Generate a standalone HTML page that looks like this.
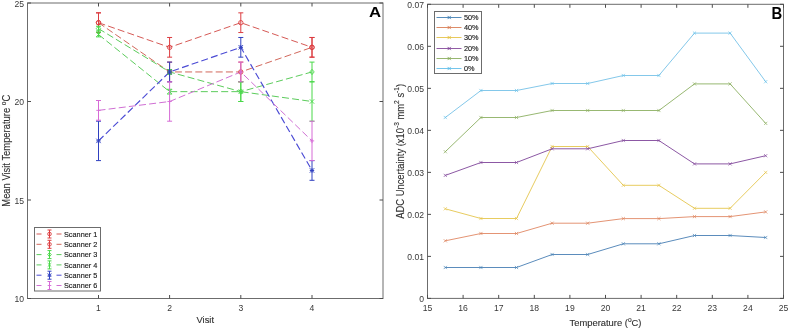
<!DOCTYPE html><html><head><meta charset="utf-8"><style>html,body{margin:0;padding:0;background:#fff;}svg{display:block;will-change:transform}text{font-family:"Liberation Sans", sans-serif;fill:#383838}.lg{fill:#1a1a1a;stroke:#1a1a1a;stroke-width:0.14px}.lb{fill:#303030;stroke:#303030;stroke-width:0.12px}</style></head><body>
<svg width="789" height="329" viewBox="0 0 789 329">
<rect width="789" height="329" fill="#fff"/>
<g id="left">
<polyline points="98.50,22.70 169.60,47.33 240.80,22.70 312.00,47.33" fill="none" stroke="#d65a56" stroke-width="1" stroke-dasharray="7 3.2"/>
<polyline points="98.50,22.70 169.60,71.95 240.80,71.95 312.00,47.33" fill="none" stroke="#d2685c" stroke-width="1" stroke-dasharray="7 3.2"/>
<polyline points="98.50,28.61 169.60,71.95 240.80,91.65 312.00,71.95" fill="none" stroke="#5ccc5c" stroke-width="1" stroke-dasharray="7 3.2"/>
<polyline points="98.50,34.52 169.60,91.65 240.80,91.65 312.00,101.50" fill="none" stroke="#5ccc5c" stroke-width="1" stroke-dasharray="7 3.2"/>
<polyline points="98.50,140.90 169.60,71.95 240.80,47.33 312.00,170.45" fill="none" stroke="#4a4ad4" stroke-width="1.15" stroke-dasharray="7 3.2"/>
<polyline points="98.50,110.36 169.60,101.50 240.80,71.95 312.00,140.90" fill="none" stroke="#d070d4" stroke-width="1" stroke-dasharray="7 3.2"/>
<path d="M98.50 12.85V32.55M96.00 12.85H101.00M96.00 32.55H101.00" stroke="#dc3c40" stroke-width="1" fill="none"/>
<circle cx="98.50" cy="22.70" r="2.20" fill="none" stroke="#dc3c40" stroke-width="0.9"/>
<path d="M169.60 37.48V57.17M167.10 37.48H172.10M167.10 57.17H172.10" stroke="#dc3c40" stroke-width="1" fill="none"/>
<circle cx="169.60" cy="47.33" r="2.20" fill="none" stroke="#dc3c40" stroke-width="0.9"/>
<path d="M240.80 12.85V32.55M238.30 12.85H243.30M238.30 32.55H243.30" stroke="#dc3c40" stroke-width="1" fill="none"/>
<circle cx="240.80" cy="22.70" r="2.20" fill="none" stroke="#dc3c40" stroke-width="0.9"/>
<path d="M312.00 37.48V57.17M309.50 37.48H314.50M309.50 57.17H314.50" stroke="#dc3c40" stroke-width="1" fill="none"/>
<circle cx="312.00" cy="47.33" r="2.20" fill="none" stroke="#dc3c40" stroke-width="0.9"/>
<path d="M98.50 12.85V32.55M96.00 12.85H101.00M96.00 32.55H101.00" stroke="#dc3c40" stroke-width="1" fill="none"/>
<circle cx="98.50" cy="22.70" r="2.20" fill="none" stroke="#dc3c40" stroke-width="0.9"/>
<path d="M169.60 62.10V81.80M167.10 62.10H172.10M167.10 81.80H172.10" stroke="#dc3c40" stroke-width="1" fill="none"/>
<circle cx="169.60" cy="71.95" r="2.20" fill="none" stroke="#dc3c40" stroke-width="0.9"/>
<path d="M240.80 62.10V81.80M238.30 62.10H243.30M238.30 81.80H243.30" stroke="#dc3c40" stroke-width="1" fill="none"/>
<circle cx="240.80" cy="71.95" r="2.20" fill="none" stroke="#dc3c40" stroke-width="0.9"/>
<path d="M312.00 37.48V57.17M309.50 37.48H314.50M309.50 57.17H314.50" stroke="#dc3c40" stroke-width="1" fill="none"/>
<circle cx="312.00" cy="47.33" r="2.20" fill="none" stroke="#dc3c40" stroke-width="0.9"/>
<path d="M98.50 26.25V30.97M96.00 26.25H101.00M96.00 30.97H101.00" stroke="#48d848" stroke-width="1" fill="none"/>
<path d="M98.50 25.97L100.70 28.61L98.50 31.25L96.30 28.61Z" fill="none" stroke="#48d848" stroke-width="0.9"/>
<path d="M169.60 69.59V74.31M167.10 69.59H172.10M167.10 74.31H172.10" stroke="#48d848" stroke-width="1" fill="none"/>
<path d="M169.60 69.31L171.80 71.95L169.60 74.59L167.40 71.95Z" fill="none" stroke="#48d848" stroke-width="0.9"/>
<path d="M240.80 81.80V101.50M238.30 81.80H243.30M238.30 101.50H243.30" stroke="#48d848" stroke-width="1" fill="none"/>
<path d="M240.80 89.01L243.00 91.65L240.80 94.29L238.60 91.65Z" fill="none" stroke="#48d848" stroke-width="0.9"/>
<path d="M312.00 62.10V81.80M309.50 62.10H314.50M309.50 81.80H314.50" stroke="#48d848" stroke-width="1" fill="none"/>
<path d="M312.00 69.31L314.20 71.95L312.00 74.59L309.80 71.95Z" fill="none" stroke="#48d848" stroke-width="0.9"/>
<path d="M98.50 32.16V36.88M96.00 32.16H101.00M96.00 36.88H101.00" stroke="#48d848" stroke-width="1" fill="none"/>
<path d="M96.30 32.32L100.70 36.72M96.30 36.72L100.70 32.32" stroke="#48d848" stroke-width="0.9"/>
<path d="M169.60 89.29V94.01M167.10 89.29H172.10M167.10 94.01H172.10" stroke="#48d848" stroke-width="1" fill="none"/>
<path d="M167.40 89.45L171.80 93.85M167.40 93.85L171.80 89.45" stroke="#48d848" stroke-width="0.9"/>
<path d="M240.80 81.80V101.50M238.30 81.80H243.30M238.30 101.50H243.30" stroke="#48d848" stroke-width="1" fill="none"/>
<path d="M238.60 89.45L243.00 93.85M238.60 93.85L243.00 89.45" stroke="#48d848" stroke-width="0.9"/>
<path d="M312.00 81.80V121.20M309.50 81.80H314.50M309.50 121.20H314.50" stroke="#48d848" stroke-width="1" fill="none"/>
<path d="M309.80 99.30L314.20 103.70M309.80 103.70L314.20 99.30" stroke="#48d848" stroke-width="0.9"/>
<path d="M98.50 121.20V160.60M96.00 121.20H101.00M96.00 160.60H101.00" stroke="#3040c0" stroke-width="1" fill="none"/>
<path d="M96.30 138.70L100.70 143.10M96.30 143.10L100.70 138.70M98.50 138.70V143.10M96.30 140.90H100.70" stroke="#3040c0" stroke-width="1"/>
<path d="M169.60 62.10V81.80M167.10 62.10H172.10M167.10 81.80H172.10" stroke="#3040c0" stroke-width="1" fill="none"/>
<path d="M167.40 69.75L171.80 74.15M167.40 74.15L171.80 69.75M169.60 69.75V74.15M167.40 71.95H171.80" stroke="#3040c0" stroke-width="1"/>
<path d="M240.80 37.48V57.17M238.30 37.48H243.30M238.30 57.17H243.30" stroke="#3040c0" stroke-width="1" fill="none"/>
<path d="M238.60 45.12L243.00 49.53M238.60 49.53L243.00 45.12M240.80 45.12V49.53M238.60 47.33H243.00" stroke="#3040c0" stroke-width="1"/>
<path d="M312.00 160.60V180.30M309.50 160.60H314.50M309.50 180.30H314.50" stroke="#3040c0" stroke-width="1" fill="none"/>
<path d="M309.80 168.25L314.20 172.65M309.80 172.65L314.20 168.25M312.00 168.25V172.65M309.80 170.45H314.20" stroke="#3040c0" stroke-width="1"/>
<path d="M98.50 100.51V120.21M96.00 100.51H101.00M96.00 120.21H101.00" stroke="#d66ad6" stroke-width="1" fill="none"/>
<path d="M98.50 108.16V112.56M96.30 110.36H100.70" stroke="#d66ad6" stroke-width="0.9"/>
<path d="M169.60 81.80V121.20M167.10 81.80H172.10M167.10 121.20H172.10" stroke="#d66ad6" stroke-width="1" fill="none"/>
<path d="M169.60 99.30V103.70M167.40 101.50H171.80" stroke="#d66ad6" stroke-width="0.9"/>
<path d="M240.80 62.10V81.80M238.30 62.10H243.30M238.30 81.80H243.30" stroke="#d66ad6" stroke-width="1" fill="none"/>
<path d="M240.80 69.75V74.15M238.60 71.95H243.00" stroke="#d66ad6" stroke-width="0.9"/>
<path d="M312.00 121.20V160.60M309.50 121.20H314.50M309.50 160.60H314.50" stroke="#d66ad6" stroke-width="1" fill="none"/>
<path d="M312.00 138.70V143.10M309.80 140.90H314.20" stroke="#d66ad6" stroke-width="0.9"/>
<rect x="27.5" y="3.0" width="355.5" height="295.5" fill="none" stroke="#6c6c6c" stroke-width="1"/>
<path d="M98.50 298.5v-3.5M98.50 3.0v3.5" stroke="#4c4c4c" stroke-width="1"/>
<text x="98.50" y="310.80" font-size="8.6" text-anchor="middle">1</text>
<path d="M169.60 298.5v-3.5M169.60 3.0v3.5" stroke="#4c4c4c" stroke-width="1"/>
<text x="169.60" y="310.80" font-size="8.6" text-anchor="middle">2</text>
<path d="M240.80 298.5v-3.5M240.80 3.0v3.5" stroke="#4c4c4c" stroke-width="1"/>
<text x="240.80" y="310.80" font-size="8.6" text-anchor="middle">3</text>
<path d="M312.00 298.5v-3.5M312.00 3.0v3.5" stroke="#4c4c4c" stroke-width="1"/>
<text x="312.00" y="310.80" font-size="8.6" text-anchor="middle">4</text>
<path d="M27.5 298.50h3.5M383.0 298.50h-3.5" stroke="#4c4c4c" stroke-width="1"/>
<text x="24.00" y="302.30" font-size="8.6" text-anchor="end">10</text>
<path d="M27.5 200.00h3.5M383.0 200.00h-3.5" stroke="#4c4c4c" stroke-width="1"/>
<text x="24.00" y="203.80" font-size="8.6" text-anchor="end">15</text>
<path d="M27.5 101.50h3.5M383.0 101.50h-3.5" stroke="#4c4c4c" stroke-width="1"/>
<text x="24.00" y="105.30" font-size="8.6" text-anchor="end">20</text>
<path d="M27.5 3.00h3.5M383.0 3.00h-3.5" stroke="#4c4c4c" stroke-width="1"/>
<text x="24.00" y="6.80" font-size="8.6" text-anchor="end">25</text>
<text x="205.25" y="322.6" font-size="9.4" class="lb" text-anchor="middle">Visit</text>
<text transform="translate(9.8,150.75) rotate(-90) scale(1,1.07)" font-size="9.4" class="lb" text-anchor="middle">Mean Visit Temperature <tspan font-size="6.6" dy="-4">o</tspan><tspan dy="4">C</tspan></text>
<text transform="translate(368.9,17.1) scale(1.12,1)" font-size="15" font-weight="bold" style="fill:#000">A</text>
<rect x="34.5" y="227.5" width="66.0" height="63.5" fill="#fff" stroke="#6c6c6c" stroke-width="1"/>
<path d="M36.5 234.00H41.5M56.5 234.00H61.5" stroke="#d65a56" stroke-width="1"/>
<path d="M49.5 230.00V238.00M47.5 230.00H51.5M47.5 238.00H51.5" stroke="#dc3c40" stroke-width="1"/>
<circle cx="49.50" cy="234.00" r="1.80" fill="none" stroke="#dc3c40" stroke-width="0.9"/>
<text x="64" y="236.60" font-size="7.3" class="lg">Scanner 1</text>
<path d="M36.5 244.30H41.5M56.5 244.30H61.5" stroke="#d2685c" stroke-width="1"/>
<path d="M49.5 240.30V248.30M47.5 240.30H51.5M47.5 248.30H51.5" stroke="#dc3c40" stroke-width="1"/>
<circle cx="49.50" cy="244.30" r="1.80" fill="none" stroke="#dc3c40" stroke-width="0.9"/>
<text x="64" y="246.90" font-size="7.3" class="lg">Scanner 2</text>
<path d="M36.5 254.60H41.5M56.5 254.60H61.5" stroke="#5ccc5c" stroke-width="1"/>
<path d="M49.5 250.60V258.60M47.5 250.60H51.5M47.5 258.60H51.5" stroke="#48d848" stroke-width="1"/>
<path d="M49.50 252.44L51.30 254.60L49.50 256.76L47.70 254.60Z" fill="none" stroke="#48d848" stroke-width="0.9"/>
<text x="64" y="257.20" font-size="7.3" class="lg">Scanner 3</text>
<path d="M36.5 264.90H41.5M56.5 264.90H61.5" stroke="#5ccc5c" stroke-width="1"/>
<path d="M49.5 260.90V268.90M47.5 260.90H51.5M47.5 268.90H51.5" stroke="#48d848" stroke-width="1"/>
<path d="M47.70 263.10L51.30 266.70M47.70 266.70L51.30 263.10" stroke="#48d848" stroke-width="0.9"/>
<text x="64" y="267.50" font-size="7.3" class="lg">Scanner 4</text>
<path d="M36.5 275.20H41.5M56.5 275.20H61.5" stroke="#4a4ad4" stroke-width="1"/>
<path d="M49.5 271.20V279.20M47.5 271.20H51.5M47.5 279.20H51.5" stroke="#3040c0" stroke-width="1"/>
<path d="M47.70 273.40L51.30 277.00M47.70 277.00L51.30 273.40M49.50 273.40V277.00M47.70 275.20H51.30" stroke="#3040c0" stroke-width="1"/>
<text x="64" y="277.80" font-size="7.3" class="lg">Scanner 5</text>
<path d="M36.5 285.50H41.5M56.5 285.50H61.5" stroke="#d070d4" stroke-width="1"/>
<path d="M49.5 281.50V289.50M47.5 281.50H51.5M47.5 289.50H51.5" stroke="#d66ad6" stroke-width="1"/>
<path d="M49.50 283.70V287.30M47.70 285.50H51.30" stroke="#d66ad6" stroke-width="0.9"/>
<text x="64" y="288.10" font-size="7.3" class="lg">Scanner 6</text>
</g>
<g id="right">
<polyline points="445.30,267.50 480.90,267.50 516.50,267.50 552.10,254.50 587.70,254.50 623.30,243.80 658.90,243.80 694.50,235.50 730.10,235.50 765.70,237.50" fill="none" stroke="#5b8cbc" stroke-width="1" stroke-linejoin="round"/>
<path d="M443.70 265.90L446.90 269.10M443.70 269.10L446.90 265.90" stroke="#3a7ab0" stroke-width="0.8" opacity="0.8"/>
<path d="M479.30 265.90L482.50 269.10M479.30 269.10L482.50 265.90" stroke="#3a7ab0" stroke-width="0.8" opacity="0.8"/>
<path d="M514.90 265.90L518.10 269.10M514.90 269.10L518.10 265.90" stroke="#3a7ab0" stroke-width="0.8" opacity="0.8"/>
<path d="M550.50 252.90L553.70 256.10M550.50 256.10L553.70 252.90" stroke="#3a7ab0" stroke-width="0.8" opacity="0.8"/>
<path d="M586.10 252.90L589.30 256.10M586.10 256.10L589.30 252.90" stroke="#3a7ab0" stroke-width="0.8" opacity="0.8"/>
<path d="M621.70 242.20L624.90 245.40M621.70 245.40L624.90 242.20" stroke="#3a7ab0" stroke-width="0.8" opacity="0.8"/>
<path d="M657.30 242.20L660.50 245.40M657.30 245.40L660.50 242.20" stroke="#3a7ab0" stroke-width="0.8" opacity="0.8"/>
<path d="M692.90 233.90L696.10 237.10M692.90 237.10L696.10 233.90" stroke="#3a7ab0" stroke-width="0.8" opacity="0.8"/>
<path d="M728.50 233.90L731.70 237.10M728.50 237.10L731.70 233.90" stroke="#3a7ab0" stroke-width="0.8" opacity="0.8"/>
<path d="M764.10 235.90L767.30 239.10M764.10 239.10L767.30 235.90" stroke="#3a7ab0" stroke-width="0.8" opacity="0.8"/>
<polyline points="445.30,240.80 480.90,233.50 516.50,233.50 552.10,223.20 587.70,223.20 623.30,218.60 658.90,218.60 694.50,216.60 730.10,216.60 765.70,211.90" fill="none" stroke="#e49474" stroke-width="1" stroke-linejoin="round"/>
<path d="M443.70 239.20L446.90 242.40M443.70 242.40L446.90 239.20" stroke="#d8784e" stroke-width="0.8" opacity="0.8"/>
<path d="M479.30 231.90L482.50 235.10M479.30 235.10L482.50 231.90" stroke="#d8784e" stroke-width="0.8" opacity="0.8"/>
<path d="M514.90 231.90L518.10 235.10M514.90 235.10L518.10 231.90" stroke="#d8784e" stroke-width="0.8" opacity="0.8"/>
<path d="M550.50 221.60L553.70 224.80M550.50 224.80L553.70 221.60" stroke="#d8784e" stroke-width="0.8" opacity="0.8"/>
<path d="M586.10 221.60L589.30 224.80M586.10 224.80L589.30 221.60" stroke="#d8784e" stroke-width="0.8" opacity="0.8"/>
<path d="M621.70 217.00L624.90 220.20M621.70 220.20L624.90 217.00" stroke="#d8784e" stroke-width="0.8" opacity="0.8"/>
<path d="M657.30 217.00L660.50 220.20M657.30 220.20L660.50 217.00" stroke="#d8784e" stroke-width="0.8" opacity="0.8"/>
<path d="M692.90 215.00L696.10 218.20M692.90 218.20L696.10 215.00" stroke="#d8784e" stroke-width="0.8" opacity="0.8"/>
<path d="M728.50 215.00L731.70 218.20M728.50 218.20L731.70 215.00" stroke="#d8784e" stroke-width="0.8" opacity="0.8"/>
<path d="M764.10 210.30L767.30 213.50M764.10 213.50L767.30 210.30" stroke="#d8784e" stroke-width="0.8" opacity="0.8"/>
<polyline points="445.30,208.80 480.90,218.50 516.50,218.50 552.10,146.50 587.70,146.50 623.30,185.30 658.90,185.30 694.50,208.30 730.10,208.30 765.70,172.40" fill="none" stroke="#e8cc60" stroke-width="1" stroke-linejoin="round"/>
<path d="M443.70 207.20L446.90 210.40M443.70 210.40L446.90 207.20" stroke="#e4c040" stroke-width="0.8" opacity="0.8"/>
<path d="M479.30 216.90L482.50 220.10M479.30 220.10L482.50 216.90" stroke="#e4c040" stroke-width="0.8" opacity="0.8"/>
<path d="M514.90 216.90L518.10 220.10M514.90 220.10L518.10 216.90" stroke="#e4c040" stroke-width="0.8" opacity="0.8"/>
<path d="M550.50 144.90L553.70 148.10M550.50 148.10L553.70 144.90" stroke="#e4c040" stroke-width="0.8" opacity="0.8"/>
<path d="M586.10 144.90L589.30 148.10M586.10 148.10L589.30 144.90" stroke="#e4c040" stroke-width="0.8" opacity="0.8"/>
<path d="M621.70 183.70L624.90 186.90M621.70 186.90L624.90 183.70" stroke="#e4c040" stroke-width="0.8" opacity="0.8"/>
<path d="M657.30 183.70L660.50 186.90M657.30 186.90L660.50 183.70" stroke="#e4c040" stroke-width="0.8" opacity="0.8"/>
<path d="M692.90 206.70L696.10 209.90M692.90 209.90L696.10 206.70" stroke="#e4c040" stroke-width="0.8" opacity="0.8"/>
<path d="M728.50 206.70L731.70 209.90M728.50 209.90L731.70 206.70" stroke="#e4c040" stroke-width="0.8" opacity="0.8"/>
<path d="M764.10 170.80L767.30 174.00M764.10 174.00L767.30 170.80" stroke="#e4c040" stroke-width="0.8" opacity="0.8"/>
<polyline points="445.30,175.40 480.90,162.50 516.50,162.50 552.10,148.80 587.70,148.80 623.30,140.50 658.90,140.50 694.50,163.90 730.10,163.90 765.70,155.70" fill="none" stroke="#8c58a4" stroke-width="1" stroke-linejoin="round"/>
<path d="M443.70 173.80L446.90 177.00M443.70 177.00L446.90 173.80" stroke="#7e4096" stroke-width="0.8" opacity="0.8"/>
<path d="M479.30 160.90L482.50 164.10M479.30 164.10L482.50 160.90" stroke="#7e4096" stroke-width="0.8" opacity="0.8"/>
<path d="M514.90 160.90L518.10 164.10M514.90 164.10L518.10 160.90" stroke="#7e4096" stroke-width="0.8" opacity="0.8"/>
<path d="M550.50 147.20L553.70 150.40M550.50 150.40L553.70 147.20" stroke="#7e4096" stroke-width="0.8" opacity="0.8"/>
<path d="M586.10 147.20L589.30 150.40M586.10 150.40L589.30 147.20" stroke="#7e4096" stroke-width="0.8" opacity="0.8"/>
<path d="M621.70 138.90L624.90 142.10M621.70 142.10L624.90 138.90" stroke="#7e4096" stroke-width="0.8" opacity="0.8"/>
<path d="M657.30 138.90L660.50 142.10M657.30 142.10L660.50 138.90" stroke="#7e4096" stroke-width="0.8" opacity="0.8"/>
<path d="M692.90 162.30L696.10 165.50M692.90 165.50L696.10 162.30" stroke="#7e4096" stroke-width="0.8" opacity="0.8"/>
<path d="M728.50 162.30L731.70 165.50M728.50 165.50L731.70 162.30" stroke="#7e4096" stroke-width="0.8" opacity="0.8"/>
<path d="M764.10 154.10L767.30 157.30M764.10 157.30L767.30 154.10" stroke="#7e4096" stroke-width="0.8" opacity="0.8"/>
<polyline points="445.30,151.70 480.90,117.50 516.50,117.50 552.10,110.50 587.70,110.50 623.30,110.50 658.90,110.50 694.50,83.90 730.10,83.90 765.70,123.40" fill="none" stroke="#98b872" stroke-width="1" stroke-linejoin="round"/>
<path d="M443.70 150.10L446.90 153.30M443.70 153.30L446.90 150.10" stroke="#86aa58" stroke-width="0.8" opacity="0.8"/>
<path d="M479.30 115.90L482.50 119.10M479.30 119.10L482.50 115.90" stroke="#86aa58" stroke-width="0.8" opacity="0.8"/>
<path d="M514.90 115.90L518.10 119.10M514.90 119.10L518.10 115.90" stroke="#86aa58" stroke-width="0.8" opacity="0.8"/>
<path d="M550.50 108.90L553.70 112.10M550.50 112.10L553.70 108.90" stroke="#86aa58" stroke-width="0.8" opacity="0.8"/>
<path d="M586.10 108.90L589.30 112.10M586.10 112.10L589.30 108.90" stroke="#86aa58" stroke-width="0.8" opacity="0.8"/>
<path d="M621.70 108.90L624.90 112.10M621.70 112.10L624.90 108.90" stroke="#86aa58" stroke-width="0.8" opacity="0.8"/>
<path d="M657.30 108.90L660.50 112.10M657.30 112.10L660.50 108.90" stroke="#86aa58" stroke-width="0.8" opacity="0.8"/>
<path d="M692.90 82.30L696.10 85.50M692.90 85.50L696.10 82.30" stroke="#86aa58" stroke-width="0.8" opacity="0.8"/>
<path d="M728.50 82.30L731.70 85.50M728.50 85.50L731.70 82.30" stroke="#86aa58" stroke-width="0.8" opacity="0.8"/>
<path d="M764.10 121.80L767.30 125.00M764.10 125.00L767.30 121.80" stroke="#86aa58" stroke-width="0.8" opacity="0.8"/>
<polyline points="445.30,117.50 480.90,90.50 516.50,90.50 552.10,83.50 587.70,83.50 623.30,75.50 658.90,75.50 694.50,33.10 730.10,33.10 765.70,81.70" fill="none" stroke="#84c8ea" stroke-width="1" stroke-linejoin="round"/>
<path d="M443.70 115.90L446.90 119.10M443.70 119.10L446.90 115.90" stroke="#5cbce8" stroke-width="0.8" opacity="0.8"/>
<path d="M479.30 88.90L482.50 92.10M479.30 92.10L482.50 88.90" stroke="#5cbce8" stroke-width="0.8" opacity="0.8"/>
<path d="M514.90 88.90L518.10 92.10M514.90 92.10L518.10 88.90" stroke="#5cbce8" stroke-width="0.8" opacity="0.8"/>
<path d="M550.50 81.90L553.70 85.10M550.50 85.10L553.70 81.90" stroke="#5cbce8" stroke-width="0.8" opacity="0.8"/>
<path d="M586.10 81.90L589.30 85.10M586.10 85.10L589.30 81.90" stroke="#5cbce8" stroke-width="0.8" opacity="0.8"/>
<path d="M621.70 73.90L624.90 77.10M621.70 77.10L624.90 73.90" stroke="#5cbce8" stroke-width="0.8" opacity="0.8"/>
<path d="M657.30 73.90L660.50 77.10M657.30 77.10L660.50 73.90" stroke="#5cbce8" stroke-width="0.8" opacity="0.8"/>
<path d="M692.90 31.50L696.10 34.70M692.90 34.70L696.10 31.50" stroke="#5cbce8" stroke-width="0.8" opacity="0.8"/>
<path d="M728.50 31.50L731.70 34.70M728.50 34.70L731.70 31.50" stroke="#5cbce8" stroke-width="0.8" opacity="0.8"/>
<path d="M764.10 80.10L767.30 83.30M764.10 83.30L767.30 80.10" stroke="#5cbce8" stroke-width="0.8" opacity="0.8"/>
<rect x="427.5" y="4.3" width="356.0" height="294.09999999999997" fill="none" stroke="#6c6c6c" stroke-width="1"/>
<path d="M427.50 298.4v-3.5M427.50 4.3v3.5" stroke="#4c4c4c" stroke-width="1"/>
<text x="427.50" y="310.70" font-size="8.6" text-anchor="middle">15</text>
<path d="M463.10 298.4v-3.5M463.10 4.3v3.5" stroke="#4c4c4c" stroke-width="1"/>
<text x="463.10" y="310.70" font-size="8.6" text-anchor="middle">16</text>
<path d="M498.70 298.4v-3.5M498.70 4.3v3.5" stroke="#4c4c4c" stroke-width="1"/>
<text x="498.70" y="310.70" font-size="8.6" text-anchor="middle">17</text>
<path d="M534.30 298.4v-3.5M534.30 4.3v3.5" stroke="#4c4c4c" stroke-width="1"/>
<text x="534.30" y="310.70" font-size="8.6" text-anchor="middle">18</text>
<path d="M569.90 298.4v-3.5M569.90 4.3v3.5" stroke="#4c4c4c" stroke-width="1"/>
<text x="569.90" y="310.70" font-size="8.6" text-anchor="middle">19</text>
<path d="M605.50 298.4v-3.5M605.50 4.3v3.5" stroke="#4c4c4c" stroke-width="1"/>
<text x="605.50" y="310.70" font-size="8.6" text-anchor="middle">20</text>
<path d="M641.10 298.4v-3.5M641.10 4.3v3.5" stroke="#4c4c4c" stroke-width="1"/>
<text x="641.10" y="310.70" font-size="8.6" text-anchor="middle">21</text>
<path d="M676.70 298.4v-3.5M676.70 4.3v3.5" stroke="#4c4c4c" stroke-width="1"/>
<text x="676.70" y="310.70" font-size="8.6" text-anchor="middle">22</text>
<path d="M712.30 298.4v-3.5M712.30 4.3v3.5" stroke="#4c4c4c" stroke-width="1"/>
<text x="712.30" y="310.70" font-size="8.6" text-anchor="middle">23</text>
<path d="M747.90 298.4v-3.5M747.90 4.3v3.5" stroke="#4c4c4c" stroke-width="1"/>
<text x="747.90" y="310.70" font-size="8.6" text-anchor="middle">24</text>
<path d="M783.50 298.4v-3.5M783.50 4.3v3.5" stroke="#4c4c4c" stroke-width="1"/>
<text x="783.50" y="310.70" font-size="8.6" text-anchor="middle">25</text>
<path d="M427.5 298.40h3.5M783.5 298.40h-3.5" stroke="#4c4c4c" stroke-width="1"/>
<text x="424.00" y="302.20" font-size="8.6" text-anchor="end">0</text>
<path d="M427.5 256.39h3.5M783.5 256.39h-3.5" stroke="#4c4c4c" stroke-width="1"/>
<text x="424.00" y="260.19" font-size="8.6" text-anchor="end">0.01</text>
<path d="M427.5 214.37h3.5M783.5 214.37h-3.5" stroke="#4c4c4c" stroke-width="1"/>
<text x="424.00" y="218.17" font-size="8.6" text-anchor="end">0.02</text>
<path d="M427.5 172.36h3.5M783.5 172.36h-3.5" stroke="#4c4c4c" stroke-width="1"/>
<text x="424.00" y="176.16" font-size="8.6" text-anchor="end">0.03</text>
<path d="M427.5 130.34h3.5M783.5 130.34h-3.5" stroke="#4c4c4c" stroke-width="1"/>
<text x="424.00" y="134.14" font-size="8.6" text-anchor="end">0.04</text>
<path d="M427.5 88.33h3.5M783.5 88.33h-3.5" stroke="#4c4c4c" stroke-width="1"/>
<text x="424.00" y="92.13" font-size="8.6" text-anchor="end">0.05</text>
<path d="M427.5 46.31h3.5M783.5 46.31h-3.5" stroke="#4c4c4c" stroke-width="1"/>
<text x="424.00" y="50.11" font-size="8.6" text-anchor="end">0.06</text>
<path d="M427.5 4.30h3.5M783.5 4.30h-3.5" stroke="#4c4c4c" stroke-width="1"/>
<text x="424.00" y="8.10" font-size="8.6" text-anchor="end">0.07</text>
<text x="605.50" y="326.1" font-size="9.4" class="lb" text-anchor="middle">Temperature (<tspan font-size="6.6" dy="-4">o</tspan><tspan dy="4">C)</tspan></text>
<text transform="translate(403.7,151.35) rotate(-90) scale(1,1.07)" font-size="9.4" class="lb" text-anchor="middle">ADC Uncertainty (x10<tspan font-size="6.6" dy="-4">-3</tspan><tspan dy="4"> mm</tspan><tspan font-size="6.6" dy="-4">2</tspan><tspan dy="4"> s</tspan><tspan font-size="6.6" dy="-4">-1</tspan><tspan dy="4">)</tspan></text>
<text transform="translate(771.6,19) scale(0.9,1)" font-size="16.5" font-weight="bold" style="fill:#000">B</text>
<rect x="434.5" y="11.5" width="47.0" height="62.0" fill="#fff" stroke="#6c6c6c" stroke-width="1"/>
<path d="M436.5 17.50H461.5" stroke="#3a7ab0" stroke-width="1" opacity="0.85"/>
<path d="M447.60 15.90L450.80 19.10M447.60 19.10L450.80 15.90" stroke="#3a7ab0" stroke-width="0.9"/>
<text x="464" y="20.10" font-size="7.3" class="lg">50%</text>
<path d="M436.5 27.50H461.5" stroke="#d8784e" stroke-width="1" opacity="0.85"/>
<path d="M447.60 25.90L450.80 29.10M447.60 29.10L450.80 25.90" stroke="#d8784e" stroke-width="0.9"/>
<text x="464" y="30.10" font-size="7.3" class="lg">40%</text>
<path d="M436.5 37.50H461.5" stroke="#e4c040" stroke-width="1" opacity="0.85"/>
<path d="M447.60 35.90L450.80 39.10M447.60 39.10L450.80 35.90" stroke="#e4c040" stroke-width="0.9"/>
<text x="464" y="40.10" font-size="7.3" class="lg">30%</text>
<path d="M436.5 48.50H461.5" stroke="#7e4096" stroke-width="1" opacity="0.85"/>
<path d="M447.60 46.90L450.80 50.10M447.60 50.10L450.80 46.90" stroke="#7e4096" stroke-width="0.9"/>
<text x="464" y="51.10" font-size="7.3" class="lg">20%</text>
<path d="M436.5 58.50H461.5" stroke="#86aa58" stroke-width="1" opacity="0.85"/>
<path d="M447.60 56.90L450.80 60.10M447.60 60.10L450.80 56.90" stroke="#86aa58" stroke-width="0.9"/>
<text x="464" y="61.10" font-size="7.3" class="lg">10%</text>
<path d="M436.5 68.50H461.5" stroke="#5cbce8" stroke-width="1" opacity="0.85"/>
<path d="M447.60 66.90L450.80 70.10M447.60 70.10L450.80 66.90" stroke="#5cbce8" stroke-width="0.9"/>
<text x="464" y="71.10" font-size="7.3" class="lg">0%</text>
</g>
</svg></body></html>
